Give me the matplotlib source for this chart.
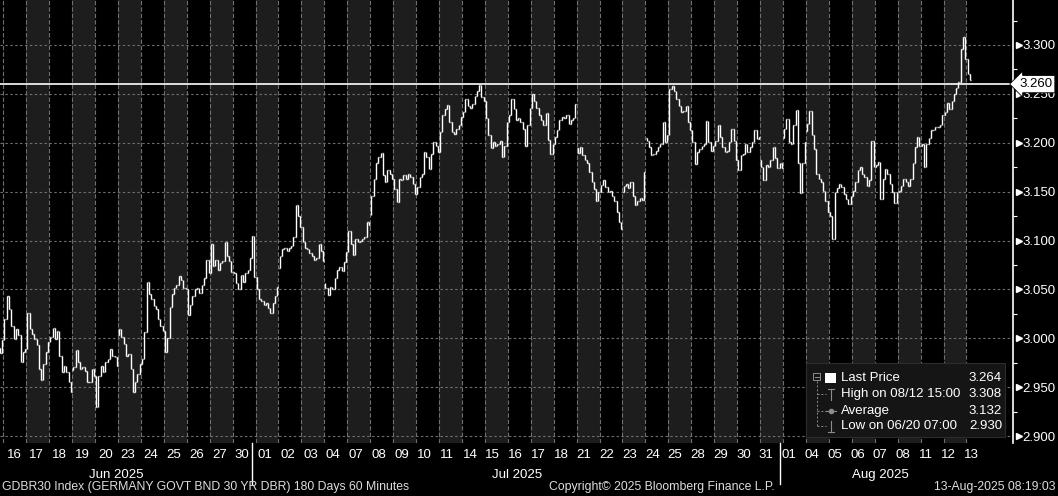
import numpy as np
import matplotlib
matplotlib.use("Agg")
import matplotlib.pyplot as plt
from matplotlib.collections import LineCollection
from matplotlib.patches import Rectangle
from matplotlib.lines import Line2D

plt.rcParams['font.family'] = ['Liberation Sans', 'DejaVu Sans']

# trading days shown
jun_days = [16, 17, 18, 19, 20, 23, 24, 25, 26, 27, 30]
jul_days = [1, 2, 3, 4, 7, 8, 9, 10, 11, 14, 15, 16, 17, 18, 21, 22, 23, 24, 25, 28, 29, 30, 31]
aug_days = [1, 4, 5, 6, 7, 8, 11, 12, 13]

# hourly closes, 10 bars a day (07:00 - 16:00)
pre_open = 2.990
pre_close = [2.985, 2.998]  # tail of Jun 13

jun_close = [
    3.020, 3.043, 3.030, 3.013, 2.999, 3.010, 3.003, 2.976, 2.986, 2.989,  # 16
    3.026, 3.010, 3.004, 2.999, 2.993, 2.969, 2.957, 2.974, 2.986, 2.996,  # 17
    3.001, 3.011, 2.999, 3.008, 2.982, 2.966, 2.972, 2.966, 2.955, 2.945,  # 18
    2.971, 2.988, 2.976, 2.969, 2.971, 2.967, 2.955, 2.955, 2.969, 2.962,  # 19
    2.930, 2.962, 2.972, 2.966, 2.976, 2.979, 2.989, 2.982, 2.981, 2.972,  # 20
    3.010, 3.001, 2.994, 2.982, 2.984, 2.969, 2.945, 2.955, 2.964, 2.974,  # 23
    2.979, 3.006, 3.058, 3.045, 3.040, 3.033, 3.030, 3.020, 3.013, 3.008,  # 24
    2.986, 3.000, 3.032, 3.045, 3.052, 3.055, 3.064, 3.060, 3.052, 3.050,  # 25
    3.024, 3.034, 3.043, 3.050, 3.051, 3.046, 3.055, 3.062, 3.080, 3.067,  # 26
    3.097, 3.074, 3.080, 3.070, 3.077, 3.079, 3.099, 3.084, 3.079, 3.068,  # 27
    3.067, 3.057, 3.050, 3.065, 3.058, 3.067, 3.070, 3.082, 3.105, 3.063,  # 30
]

jul_close = [
    3.050, 3.040, 3.038, 3.034, 3.036, 3.031, 3.026, 3.036, 3.043, 3.053,  # 01
    3.084, 3.091, 3.092, 3.089, 3.092, 3.094, 3.104, 3.136, 3.125, 3.114,  # 02
    3.099, 3.092, 3.091, 3.087, 3.084, 3.080, 3.082, 3.097, 3.089, 3.079,  # 03
    3.051, 3.044, 3.053, 3.050, 3.062, 3.070, 3.073, 3.069, 3.078, 3.088,  # 04
    3.110, 3.096, 3.085, 3.102, 3.099, 3.100, 3.102, 3.104, 3.119, 3.116,  # 07
    3.146, 3.163, 3.179, 3.185, 3.190, 3.167, 3.160, 3.172, 3.168, 3.163,  # 08
    3.153, 3.139, 3.163, 3.162, 3.167, 3.163, 3.168, 3.165, 3.158, 3.148,  # 09
    3.155, 3.165, 3.168, 3.191, 3.185, 3.173, 3.189, 3.201, 3.197, 3.191,  # 10
    3.211, 3.228, 3.235, 3.239, 3.221, 3.211, 3.209, 3.214, 3.218, 3.226,  # 11
    3.231, 3.245, 3.238, 3.236, 3.240, 3.248, 3.253, 3.259, 3.247, 3.243,  # 14
    3.225, 3.208, 3.195, 3.201, 3.197, 3.199, 3.202, 3.185, 3.197, 3.221,  # 15
    3.228, 3.245, 3.235, 3.223, 3.225, 3.221, 3.214, 3.197, 3.218, 3.236,  # 16
    3.250, 3.243, 3.236, 3.228, 3.223, 3.218, 3.230, 3.203, 3.189, 3.199,  # 17
    3.206, 3.213, 3.223, 3.226, 3.225, 3.228, 3.219, 3.223, 3.225, 3.240,  # 18
    3.190, 3.196, 3.187, 3.182, 3.179, 3.170, 3.160, 3.153, 3.140, 3.150,  # 21
    3.157, 3.162, 3.155, 3.150, 3.151, 3.146, 3.140, 3.129, 3.119, 3.112,  # 22
    3.156, 3.158, 3.154, 3.160, 3.146, 3.136, 3.140, 3.144, 3.141, 3.170,  # 23
    3.202, 3.196, 3.187, 3.189, 3.192, 3.196, 3.199, 3.221, 3.201, 3.208,  # 24
    3.255, 3.258, 3.253, 3.245, 3.238, 3.231, 3.233, 3.238, 3.221, 3.213,  # 25
    3.201, 3.178, 3.191, 3.194, 3.197, 3.199, 3.222, 3.201, 3.192, 3.197,  # 28
    3.202, 3.218, 3.206, 3.196, 3.191, 3.192, 3.201, 3.214, 3.202, 3.182,  # 29
    3.172, 3.187, 3.189, 3.199, 3.191, 3.196, 3.201, 3.213, 3.204, 3.206,  # 30
    3.175, 3.162, 3.177, 3.175, 3.182, 3.196, 3.184, 3.174, 3.179, 3.174,  # 31
]

aug_close = [
    3.214, 3.224, 3.201, 3.199, 3.218, 3.234, 3.179, 3.149, 3.179, 3.201,  # 01
    3.219, 3.233, 3.208, 3.194, 3.168, 3.163, 3.160, 3.151, 3.140, 3.129,  # 04
    3.125, 3.102, 3.150, 3.154, 3.158, 3.155, 3.148, 3.143, 3.137, 3.146,  # 05
    3.151, 3.160, 3.172, 3.175, 3.168, 3.165, 3.156, 3.162, 3.202, 3.175,  # 06
    3.177, 3.180, 3.143, 3.163, 3.173, 3.168, 3.158, 3.150, 3.138, 3.150,  # 07
    3.151, 3.156, 3.163, 3.160, 3.156, 3.163, 3.179, 3.196, 3.206, 3.197,  # 08
    3.199, 3.175, 3.199, 3.205, 3.213, 3.213, 3.216, 3.216, 3.218, 3.228,  # 11
    3.231, 3.241, 3.235, 3.243, 3.250, 3.256, 3.262, 3.296, 3.308, 3.286,  # 12
    3.270, 3.264,                                                          # 13
]

# first-bar opens on days that gapped
gap_opens = {"06-19": 2.968, "06-23": 3.003, "07-02": 3.072, "07-04": 3.057,
             "07-08": 3.126, "07-21": 3.195, "07-23": 3.150, "07-24": 3.205,
             "07-31": 3.182, "08-01": 3.205, "08-04": 3.212}

ref_line = 3.260
legend_rows = [("Last Price", "3.264"), ("High on 08/12 15:00", "3.308"),
               ("Average", "3.132"), ("Low on 06/20 07:00", "2.930")]
months = ["Jun 2025", "Jul 2025", "Aug 2025"]

# ---- build bars ----
bpd = 10
xs, opens, closes = [], [], []
prev = pre_open
for k, v in enumerate(pre_close):
    xs.append(-1 + (bpd - len(pre_close) + k + 0.5) / bpd)
    opens.append(prev)
    closes.append(v)
    prev = v

day_labels = []
month_idx = []
i = 0
for m, (mdays, vals, mm) in enumerate([(jun_days, jun_close, "06"),
                                       (jul_days, jul_close, "07"),
                                       (aug_days, aug_close, "08")]):
    idx = []
    for j, d in enumerate(mdays):
        chunk = vals[j * bpd:(j + 1) * bpd]
        for k, v in enumerate(chunk):
            op = gap_opens.get(f"{mm}-{d:02d}", prev) if k == 0 else prev
            xs.append(i + (k + 0.5) / bpd)
            opens.append(op)
            closes.append(v)
            prev = v
        day_labels.append(f"{d:02d}")
        idx.append(i)
        i += 1
    month_idx.append(idx)
ndays = i

xs = np.array(xs)
opens = np.array(opens)
closes = np.array(closes)

# ---- figure ----
W, H = 1058, 496
fig = plt.figure(figsize=(W / 100, H / 100), dpi=100, facecolor='black')
ax = fig.add_axes([0, 53 / H, 1013 / W, 443 / H])
ax.set_facecolor('black')
ax.set_xlim(-0.144, 44.03)
ax.set_ylim(2.893, 3.346)

for d in range(ndays):
    if d % 2 == 1:
        ax.axvspan(d, d + 1, color='#1d1d1d', lw=0, zorder=0)
    ax.axvline(d, color='#6e6e6e', lw=0.8, ls=(0, (4, 1.8)), zorder=1)

yt = np.arange(2.900, 3.3001, 0.05)
for y in yt:
    ax.axhline(y, color='#6e6e6e', lw=0.8, ls=(0, (2.2, 2.2)), zorder=1)

ax.axhline(ref_line, color='white', lw=1.2, zorder=3)

w = 0.035
segs = [[(x, o), (x, c)] for x, o, c in zip(xs, opens, closes)]
segs += [[(x - w, o), (x, o)] for x, o in zip(xs, opens)]
segs += [[(x, c), (x + w, c)] for x, c in zip(xs, closes)]
ax.add_collection(LineCollection(segs, colors='white', linewidths=1.0, zorder=4))

# right axis
ax.yaxis.tick_right()
ax.set_yticks(yt)
ax.set_yticklabels([f"{v:.3f}" for v in yt])
ax.set_yticks(np.arange(2.925, 3.3251, 0.05), minor=True)
ax.tick_params(axis='y', which='major', length=0, pad=6.5, labelcolor='white', labelsize=9.5)
ax.tick_params(axis='y', which='minor', length=3, width=0.8, color='white', direction='out')
ax.plot(np.full(len(yt), 1.0055), yt, transform=ax.get_yaxis_transform(), ls='none',
        marker='>', ms=5, color='white', clip_on=False, zorder=6)
ax.set_xticks([])
for s in ['top', 'left', 'bottom']:
    ax.spines[s].set_visible(False)
ax.spines['right'].set_color('white')
ax.spines['right'].set_linewidth(1.2)

ax.text(1.006, ref_line, "3.260", transform=ax.get_yaxis_transform(), ha='left', va='center',
        fontsize=9.5, color='black', zorder=10, clip_on=False,
        bbox=dict(boxstyle='larrow,pad=0.2', fc='white', ec='black', lw=0.6))

# date axis
xt = ax.get_xaxis_transform()
for d, lab in enumerate(day_labels):
    ax.text(0.47 + d * 0.994, -0.027, lab, transform=xt, ha='center', va='center',
            fontsize=9.5, color='white', clip_on=False)
month_x = [4.92, 22.4, 38.26]
for name, mx in zip(months, month_x):
    ax.text(mx, -0.072, name, transform=xt, ha='center', va='center',
            fontsize=9.5, color='white', clip_on=False)
for idx in month_idx[1:]:
    ax.plot([idx[0] - 0.15] * 2, [0, -0.092], transform=xt, color='white', lw=1.0, clip_on=False)


def fx(px):
    return px / W


def fy(py):
    return 1 - py / H


# legend box
fig.add_artist(Rectangle((fx(806), fy(437)), (1005 - 806) / W, (437 - 363) / H,
                         transform=fig.transFigure, fc='#151515', ec='#2c2c2c', lw=0.8, zorder=5))
gray = '#8c8c8c'
rows_y = [378, 394, 411, 426]
fig.add_artist(Rectangle((fx(813), fy(380)), 7 / W, 7 / H, transform=fig.transFigure,
                         fc='none', ec=gray, lw=0.7, zorder=6))
fig.add_artist(Line2D([fx(814.5), fx(818.5)], [fy(376.5)] * 2, transform=fig.transFigure,
                      color=gray, lw=0.7, zorder=6))
fig.add_artist(Rectangle((fx(825), fy(383)), 11 / W, 10 / H, transform=fig.transFigure,
                         fc='white', ec='none', zorder=6))
fig.add_artist(Line2D([fx(816.5)] * 2, [fy(381), fy(427)], transform=fig.transFigure,
                      color=gray, lw=0.7, ls=(0, (2, 2)), zorder=6))
for ry in rows_y[1:]:
    fig.add_artist(Line2D([fx(817), fx(826)], [fy(ry)] * 2, transform=fig.transFigure,
                          color=gray, lw=0.7, ls=(0, (2, 2)), zorder=6))
fig.add_artist(Line2D([fx(831)] * 2, [fy(389), fy(400)], transform=fig.transFigure, color=gray, lw=0.8, zorder=6))
fig.add_artist(Line2D([fx(828), fx(834)], [fy(389)] * 2, transform=fig.transFigure, color=gray, lw=0.8, zorder=6))
fig.add_artist(Line2D([fx(826), fx(836)], [fy(411)] * 2, transform=fig.transFigure, color=gray, lw=0.8, zorder=6))
fig.add_artist(Line2D([fx(831)], [fy(411)], transform=fig.transFigure, color=gray, marker='o', ms=3, zorder=6))
fig.add_artist(Line2D([fx(831)] * 2, [fy(421), fy(432)], transform=fig.transFigure, color=gray, lw=0.8, zorder=6))
fig.add_artist(Line2D([fx(828), fx(834)], [fy(432)] * 2, transform=fig.transFigure, color=gray, lw=0.8, zorder=6))
for (lab, val), ry in zip(legend_rows, rows_y):
    fig.text(fx(841), fy(ry), lab, ha='left', va='center', fontsize=9.5, color='white', zorder=7)
    fig.text(fx(1002), fy(ry), val, ha='right', va='center', fontsize=9.5, color='white', zorder=7)

# footer
fig.text(fx(2), fy(487), "GDBR30 Index (GERMANY GOVT BND 30 YR DBR) 180 Days 60 Minutes",
         ha='left', va='center', fontsize=8.8, color='#dddddd')
fig.text(fx(549), fy(487), "Copyright\u00a9 2025 Bloomberg Finance L.P.",
         ha='left', va='center', fontsize=8.8, color='#dddddd')
fig.text(fx(1056), fy(487), "13-Aug-2025 08:19:03",
         ha='right', va='center', fontsize=8.8, color='#dddddd')

fig.savefig("out.png", dpi=100, facecolor='black')
